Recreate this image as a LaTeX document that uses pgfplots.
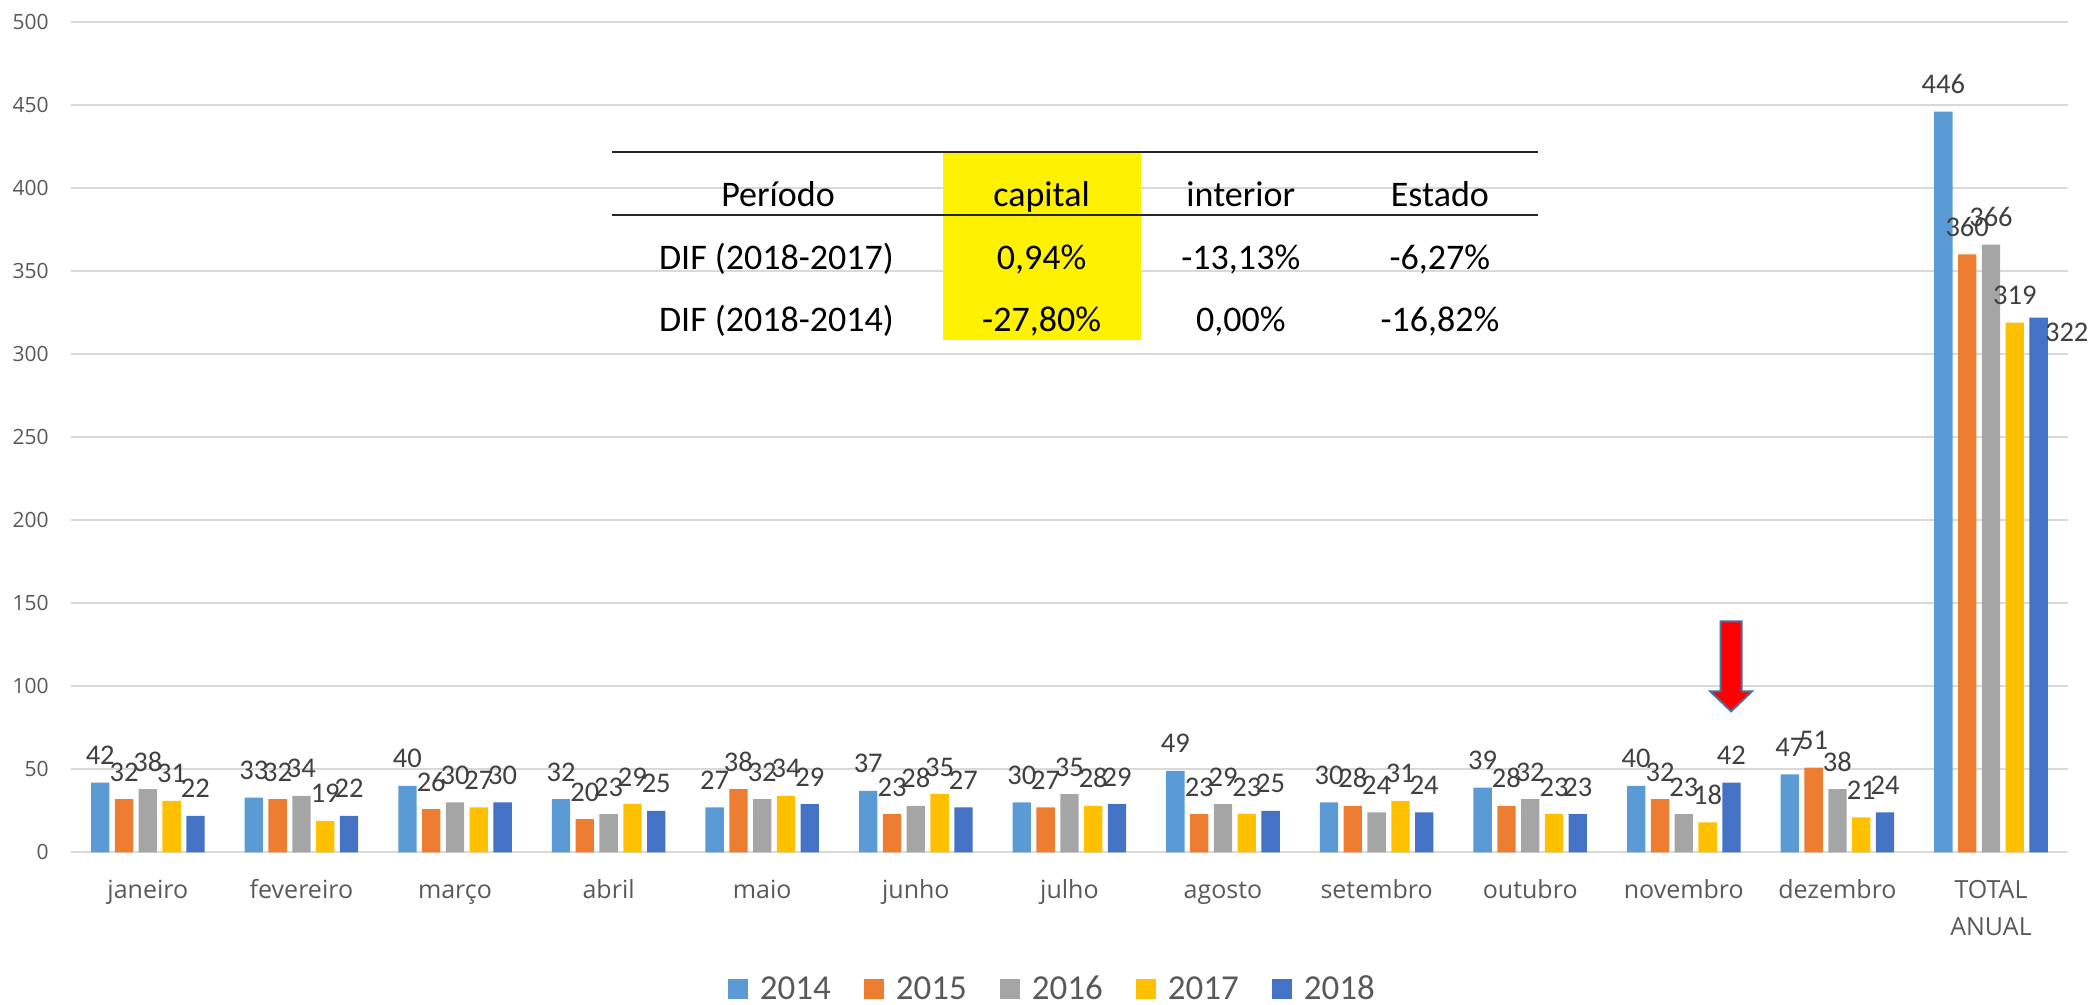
\documentclass[border=0pt]{standalone}
\usepackage{fontspec}
\setmainfont{Carlito}
\newfontfamily\opensans{Open Sans}
\usepackage{pgfplots}
\pgfplotsset{compat=1.18}

\definecolor{cA}{HTML}{5B9BD5}
\definecolor{cB}{HTML}{ED7D31}
\definecolor{cC}{HTML}{A5A5A5}
\definecolor{cD}{HTML}{FFC000}
\definecolor{cE}{HTML}{4472C4}
\definecolor{gridgray}{HTML}{D9D9D9}
\definecolor{txtgray}{HTML}{595959}
\definecolor{lblgray}{HTML}{404040}
\definecolor{arrowedge}{HTML}{41719C}

\begin{document}
\begin{tikzpicture}
\useasboundingbox (-35.5pt,-76pt) rectangle (1008.6pt,426pt);
\begin{axis}[
  at={(0,0)}, anchor=south west,
  scale only axis,
  width=998pt, height=415pt,
  /pgf/number format/assume math mode=true,
  ybar=2.75pt, bar width=9.15pt,
  xmin=-0.5, xmax=12.5,
  ymin=0, ymax=500,
  xtick={0,...,12},
  xticklabels={janeiro,fevereiro,março,abril,maio,junho,julho,agosto,setembro,outubro,novembro,dezembro,{\begin{tabular}[t]{@{}c@{}}TOTAL\\ANUAL\end{tabular}}},
  ytick={0,50,...,500},
  ymajorgrids,
  grid style={line width=1pt, gridgray},
  axis line style={draw=none},
  major tick length=0pt,
  tick style={draw=none},
  clip=false,
  xticklabel style={font=\opensans\fontsize{12.5}{18.5}\selectfont, text=txtgray, anchor=base, inner sep=0pt, yshift=-23pt},
  yticklabel style={font=\opensans\fontsize{10.5}{12}\selectfont, text=txtgray, anchor=east, inner sep=0pt, xshift=-11pt},
  nodes near coords,
  every node near coord/.append style={font=\fontsize{14.25}{16}\selectfont, text=lblgray, anchor=base, inner sep=0pt, yshift=9pt},
  legend image code/.code={\fill[#1] (0pt,-5pt) rectangle (10pt,5pt);},
  legend style={at={(0.491,-0.165)}, anchor=center, draw=none, fill=none,
    legend columns=5, font=\fontsize{17.5}{20}\selectfont, text=txtgray,
    nodes={inner sep=0pt},
    /tikz/every odd column/.append style={column sep=6pt},
    /tikz/every even column/.append style={column sep=16.5pt}},
]

% 2014
\addplot[fill=cA, draw=none] coordinates {
  (0,42) (1,33) (2,40) (3,32) (4,27) (5,37) (6,30) (7,49) (8,30) (9,39) (10,40) (11,47) (12,446)};
% 2015
\addplot[fill=cB, draw=none] coordinates {
  (0,32) (1,32) (2,26) (3,20) (4,38) (5,23) (6,27) (7,23) (8,28) (9,28) (10,32) (11,51) (12,360)};
% 2016
\addplot[fill=cC, draw=none] coordinates {
  (0,38) (1,34) (2,30) (3,23) (4,32) (5,28) (6,35) (7,29) (8,24) (9,32) (10,23) (11,38) (12,366)};
% 2017
\addplot[fill=cD, draw=none] coordinates {
  (0,31) (1,19) (2,27) (3,29) (4,34) (5,35) (6,28) (7,23) (8,31) (9,23) (10,18) (11,21) (12,319)};
% 2018 (label of the total is placed by hand, to the right)
\addplot[fill=cE, draw=none, point meta=explicit symbolic] coordinates {
  (0,22) [22] (1,22) [22] (2,30) [30] (3,25) [25] (4,29) [29] (5,27) [27] (6,29) [29]
  (7,25) [25] (8,24) [24] (9,23) [23] (10,42) [42] (11,24) [24] (12,322) [{}]};

\legend{2014,2015,2016,2017,2018}

\node[font=\fontsize{14.25}{16}\selectfont, text=lblgray, anchor=base, inner sep=0pt] at (axis cs:12.493,307.7) {322};

% table
\fill[yellow] (axis cs:5.174,308.3) rectangle (axis cs:6.464,421.5);
\draw[line width=1pt, black!85] (axis cs:3.024,421.5) -- (axis cs:9.051,421.5);
\draw[line width=1pt, black!85] (axis cs:3.024,384.0) -- (axis cs:9.051,384.0);
\begin{scope}[every node/.style={font=\fontsize{18}{21}\selectfont, anchor=base, inner sep=0pt, text=black}]
\node at (axis cs:4.103,388.8) {Período};
\node at (axis cs:5.819,388.8) {capital};
\node at (axis cs:7.116,388.8) {interior};
\node at (axis cs:8.412,388.8) {Estado};
\node at (axis cs:4.093,351.0) {DIF (2018-2017)};
\node at (axis cs:5.819,351.0) {0,94\%};
\node at (axis cs:7.116,351.0) {-13,13\%};
\node at (axis cs:8.412,351.0) {-6,27\%};
\node at (axis cs:4.093,313.7) {DIF (2018-2014)};
\node at (axis cs:5.819,313.7) {-27,80\%};
\node at (axis cs:7.116,313.7) {0,00\%};
\node at (axis cs:8.412,313.7) {-16,82\%};
\end{scope}

% red arrow over novembro
\draw[fill=red, draw=arrowedge, line width=1pt]
  (axis cs:10.2396,139) -- (axis cs:10.3764,139) -- (axis cs:10.3764,96.9)
  -- (axis cs:10.443,96.9) -- (axis cs:10.308,84.9) -- (axis cs:10.173,96.9)
  -- (axis cs:10.2396,96.9) -- cycle;

\end{axis}
\end{tikzpicture}
\end{document}
